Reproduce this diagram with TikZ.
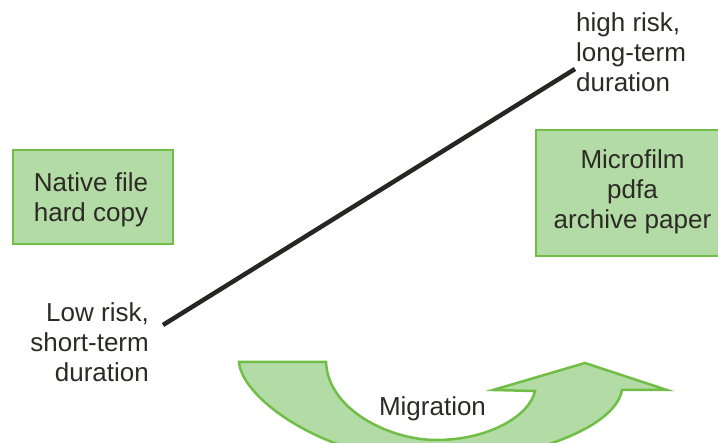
\documentclass[tikz,border=0pt]{standalone}
\usepackage{fontspec}
\setmainfont{Liberation Sans}
\definecolor{boxfill}{RGB}{179,219,166}
\definecolor{boxline}{RGB}{112,190,70}
\definecolor{txt}{RGB}{45,42,38}
\begin{document}
\begin{tikzpicture}[x=1pt,y=-1pt,
  lbl/.style={text=txt,font=\fontsize{26}{30}\selectfont,inner sep=0pt},
  gbox/.style={fill=boxfill,draw=boxline,line width=2.5pt}]
\useasboundingbox (0,0) rectangle (718,443);
\clip (0,0) rectangle (718,443);
% boxes
\path[gbox] (13,150) rectangle (173,244);
\node[lbl,align=center,anchor=base] (native) at (91,222) {Native file\\hard copy};
\path[gbox] (536,130) rectangle (730,256);
\node[lbl,align=center,anchor=base] (micro) at (632.5,229) {Microfilm\\pdfa\\archive paper};
% diagonal line
\coordinate (lo) at (163,325);
\coordinate (hi) at (575,69);
\draw[line width=4.5pt,draw=txt!90!black] (lo) -- (hi);
\node[lbl,align=left,anchor=base west] (high) at (576,92) {high risk,\\long-term\\duration};
\node[lbl,align=right,anchor=base east] (low) at (149,382) {Low risk,\\short-term\\duration};
% migration arrow
\path[gbox] (239,362) -- (326,362)
  .. controls (328,410) and (390,440) .. (436,440)
  .. controls (490,440) and (530,415) .. (535,391)
  -- (493,390) -- (585,363) -- (667,390) -- (622,390)
  .. controls (615,430) and (520,462) .. (436,462)
  .. controls (330,462) and (242,400) .. (239,362) -- cycle;
\node[lbl,anchor=base] (mig) at (432.5,416) {Migration};
\end{tikzpicture}
\end{document}
